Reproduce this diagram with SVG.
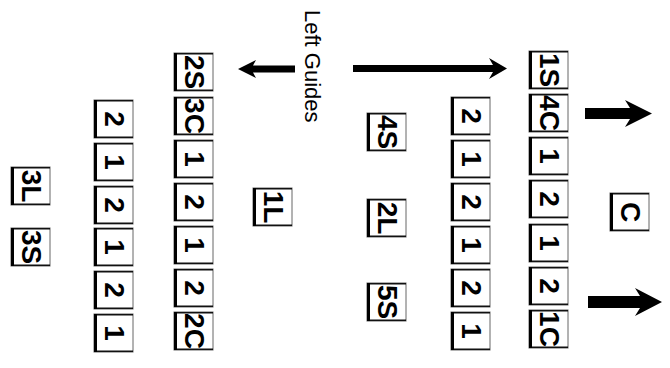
<svg xmlns="http://www.w3.org/2000/svg" width="670" height="368" viewBox="0 0 670 368">
<style>
.bx{fill:#fff;stroke:#666;stroke-width:1}
.lf{stroke:#000;stroke-width:3;fill:none}
.tb{stroke:#111;stroke-width:1.6;fill:none}
.t{font-family:"Liberation Sans",Arial,sans-serif;font-weight:bold;font-size:28px;text-anchor:middle;fill:#000}
.lbl{font-family:"Liberation Sans",Arial,sans-serif;font-size:22px;fill:#000}
.ar{fill:#000}
</style>
<defs>
<g id="box">
<rect class="bx" x="0" y="0" width="39" height="38"/>
<path class="tb" d="M0,0.8H39M0,37.2H39"/>
<path class="lf" d="M1.5,0V38"/>
</g>
</defs>
<rect width="670" height="368" fill="#fff"/>
<g id="label-left-guides"><text class="lbl" transform="translate(305,10) rotate(90)">Left Guides</text></g>

<g id="colA">
<g id="a1"><use href="#box" x="94" y="100"/><text class="t" transform="translate(105,119) rotate(90)">2</text></g>
<g id="a2"><use href="#box" x="94" y="143"/><text class="t" transform="translate(105,162) rotate(90)">1</text></g>
<g id="a3"><use href="#box" x="94" y="186"/><text class="t" transform="translate(105,205) rotate(90)">2</text></g>
<g id="a4"><use href="#box" x="94" y="228"/><text class="t" transform="translate(105,247) rotate(90)">1</text></g>
<g id="a5"><use href="#box" x="94" y="271"/><text class="t" transform="translate(105,290) rotate(90)">2</text></g>
<g id="a6"><use href="#box" x="94" y="314"/><text class="t" transform="translate(105,333) rotate(90)">1</text></g>
</g>

<g id="colB">
<g id="b1"><use href="#box" x="174" y="53"/><text class="t" transform="translate(185,72) rotate(90)">2S</text></g>
<g id="b2"><use href="#box" x="174" y="97"/><text class="t" transform="translate(185,116) rotate(90)">3C</text></g>
<g id="b3"><use href="#box" x="174" y="140"/><text class="t" transform="translate(185,159) rotate(90)">1</text></g>
<g id="b4"><use href="#box" x="174" y="183"/><text class="t" transform="translate(185,202) rotate(90)">2</text></g>
<g id="b5"><use href="#box" x="174" y="226"/><text class="t" transform="translate(185,245) rotate(90)">1</text></g>
<g id="b6"><use href="#box" x="174" y="269"/><text class="t" transform="translate(185,288) rotate(90)">2</text></g>
<g id="b7"><use href="#box" x="174" y="312"/><text class="t" transform="translate(185,331) rotate(90)">2C</text></g>
</g>

<g id="colC">
<g id="c1"><use href="#box" x="451" y="97"/><text class="t" transform="translate(462,116) rotate(90)">2</text></g>
<g id="c2"><use href="#box" x="451" y="140"/><text class="t" transform="translate(462,159) rotate(90)">1</text></g>
<g id="c3"><use href="#box" x="451" y="183"/><text class="t" transform="translate(462,202) rotate(90)">2</text></g>
<g id="c4"><use href="#box" x="451" y="226"/><text class="t" transform="translate(462,245) rotate(90)">1</text></g>
<g id="c5"><use href="#box" x="451" y="269"/><text class="t" transform="translate(462,288) rotate(90)">2</text></g>
<g id="c6"><use href="#box" x="451" y="312"/><text class="t" transform="translate(462,331) rotate(90)">1</text></g>
</g>

<g id="colD">
<g id="d1"><use href="#box" x="529" y="51"/><text class="t" transform="translate(540,70) rotate(90)">1S</text></g>
<g id="d2"><use href="#box" x="529" y="94"/><text class="t" transform="translate(540,113) rotate(90)">4C</text></g>
<g id="d3"><use href="#box" x="529" y="137"/><text class="t" transform="translate(540,156) rotate(90)">1</text></g>
<g id="d4"><use href="#box" x="529" y="180"/><text class="t" transform="translate(540,199) rotate(90)">2</text></g>
<g id="d5"><use href="#box" x="529" y="224"/><text class="t" transform="translate(540,243) rotate(90)">1</text></g>
<g id="d6"><use href="#box" x="529" y="267"/><text class="t" transform="translate(540,286) rotate(90)">2</text></g>
<g id="d7"><use href="#box" x="529" y="310"/><text class="t" transform="translate(540,329) rotate(90)">1C</text></g>
</g>

<g id="n3L"><use href="#box" x="11" y="167"/><text class="t" transform="translate(22,186) rotate(90)">3L</text></g>
<g id="n3S"><use href="#box" x="11" y="228"/><text class="t" transform="translate(22,247) rotate(90)">3S</text></g>
<g id="n1L"><use href="#box" x="253" y="188"/><text class="t" transform="translate(264,207) rotate(90)">1L</text></g>
<g id="n4S"><use href="#box" x="367" y="113"/><text class="t" transform="translate(378,132) rotate(90)">4S</text></g>
<g id="n2L"><use href="#box" x="367" y="199"/><text class="t" transform="translate(378,218) rotate(90)">2L</text></g>
<g id="n5S"><use href="#box" x="367" y="283"/><text class="t" transform="translate(378,302) rotate(90)">5S</text></g>
<g id="nC"><use href="#box" x="610" y="193"/><text class="t" transform="translate(621,212) rotate(90)">C</text></g>

<g id="connectors">
<polygon class="ar" points="295,65.5 253,65.5 256,60 238,69 256,78 253,72.5 295,72.5"/>
<polygon class="ar" points="353,65 493,65 489,58 507,68.5 489,79 493,72 353,72"/>
<polygon class="ar" points="585,108 630,108 625,100 652,113.5 625,127 630,119 585,119"/>
<polygon class="ar" points="588,296 640,296 635,288 662,302 635,316 640,308 588,308"/>
</g>
</svg>
